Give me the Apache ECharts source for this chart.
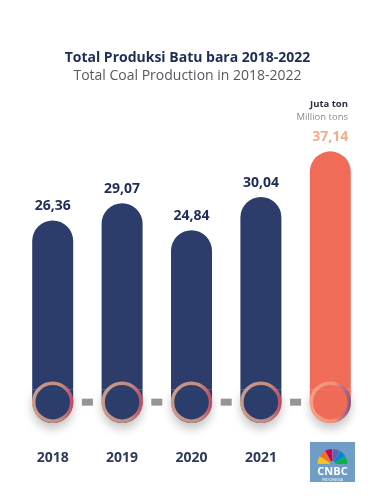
<!DOCTYPE html>
<html><head><meta charset="utf-8">
<script src="https://cdn.jsdelivr.net/npm/echarts@6/dist/echarts.min.js"></script>
<style>html,body{margin:0;padding:0;background:#fff}#c{width:375px;height:500px}</style>
</head><body><div id="c"></div>
<script>
// ---- data ----
const years = ['2018', '2019', '2020', '2021', '2022'];
const yearLabels = ['2018', '2019', '2020', '2021', ''];
const production = [26.36, 29.07, 24.84, 30.04, 37.14];
const titleMain = 'Total Produksi Batu bara 2018-2022';
const titleSub = 'Total Coal Production in 2018-2022';
const unitMain = 'Juta ton';
const unitSub = 'Million tons';

// ---- styling constants ----
const NAVY = '#2c3d6b';
const CORAL = '#f06c58';
const BASE = -5.2;   // decorative bar foot below zero
const RING = -1.95;  // level of the decorative circles
const FONT = '"Open Sans", sans-serif';

const barColor = i => (i === years.length - 1 ? CORAL : NAVY);
const fmt = v => v.toFixed(2).replace('.', ',');

const ringBorder = i => i === years.length - 1
  ? {type: 'linear', x: 0, y: 0, x2: 1, y2: 0, colorStops: [
      {offset: 0, color: '#f7ad92'}, {offset: 0.6, color: '#f29a84'}, {offset: 1, color: '#6a4d8e'}]}
  : {type: 'linear', x: 0, y: 0, x2: 1, y2: 0, colorStops: [
      {offset: 0, color: '#f1b393'}, {offset: 0.7, color: '#eb9f84'}, {offset: 1, color: '#e0485e'}]};

const chart = echarts.init(document.getElementById('c'), null, {renderer: 'canvas'});
chart.setOption({
  backgroundColor: '#ffffff',
  animation: false,
  title: [
    {text: titleMain, left: 'center', top: 46,
     textStyle: {fontFamily: FONT, fontSize: 14, fontWeight: 'bold', color: '#1e2d57'}},
    {text: titleSub, left: 'center', top: 64,
     textStyle: {fontFamily: FONT, fontSize: 14, fontWeight: 'normal', color: '#555a60'}},
    {text: unitMain, right: 22, top: 94,
     textStyle: {fontFamily: FONT, fontSize: 9.5, fontWeight: 'bold', color: '#2a2f3a'}},
    {text: unitSub, right: 22, top: 107,
     textStyle: {fontFamily: FONT, fontSize: 9.5, fontWeight: 'normal', color: '#8a8d92'}}
  ],
  grid: {left: 18, right: 10, top: 133, bottom: 77},
  xAxis: [
    {type: 'category', data: years,
     axisLine: {show: false}, axisTick: {show: false},
     axisLabel: {formatter: (v, i) => yearLabels[i], margin: 28,
       fontFamily: FONT, fontSize: 14, fontWeight: 'bold', color: '#2f3a5a'}},
    {type: 'value', min: -0.5, max: 4.5, show: false}
  ],
  yAxis: {type: 'value', min: BASE, max: 40, show: false, splitLine: {show: false}},
  series: [
    {type: 'bar', stack: 'b', barWidth: 41, z: 2,
     data: years.map((y, i) => ({value: BASE, itemStyle: {color: barColor(i)}})),
     itemStyle: {borderRadius: [0, 0, 21, 21], shadowColor: 'rgba(0,0,0,0.22)', shadowBlur: 10, shadowOffsetY: 6}},
    {type: 'bar', stack: 'b', barWidth: 41, z: 2,
     data: production.map((v, i) => ({value: v, itemStyle: {color: barColor(i)},
       label: {color: i === years.length - 1 ? '#f4ac8a' : '#1e2d57'}})),
     itemStyle: {borderRadius: [21, 21, 0, 0]},
     label: {show: true, position: 'top', distance: 7, formatter: p => fmt(p.value),
       fontFamily: FONT, fontSize: 14, fontWeight: 'bold'}},
    {type: 'scatter', xAxisIndex: 1, symbol: 'rect', symbolSize: [11, 7], z: 1,
     data: years.slice(1).map((y, i) => [i + 0.5, RING]),
     itemStyle: {color: '#7b7b7b'}},
    {type: 'scatter', symbolSize: 38, z: 5,
     data: years.map((y, i) => ({value: RING,
       itemStyle: {color: barColor(i), borderColor: ringBorder(i), borderWidth: 3.5}}))}
  ],
  graphic: [
    {type: 'group', left: 310, top: 442, children: [
      {type: 'rect', shape: {x: 0, y: 0, width: 45, height: 40}, style: {fill: '#6f9dc6'}},
      {type: 'sector', shape: {cx: 22.5, cy: 22, r0: 3, r: 15, startAngle: Math.PI * 1.0, endAngle: Math.PI * 1.17}, style: {fill: '#f6c21c'}},
      {type: 'sector', shape: {cx: 22.5, cy: 22, r0: 3, r: 15, startAngle: Math.PI * 1.18, endAngle: Math.PI * 1.33}, style: {fill: '#f37021'}},
      {type: 'sector', shape: {cx: 22.5, cy: 22, r0: 3, r: 15, startAngle: Math.PI * 1.34, endAngle: Math.PI * 1.49}, style: {fill: '#cc004c'}},
      {type: 'sector', shape: {cx: 22.5, cy: 22, r0: 3, r: 15, startAngle: Math.PI * 1.51, endAngle: Math.PI * 1.66}, style: {fill: '#6460aa'}},
      {type: 'sector', shape: {cx: 22.5, cy: 22, r0: 3, r: 15, startAngle: Math.PI * 1.67, endAngle: Math.PI * 1.82}, style: {fill: '#0089d0'}},
      {type: 'sector', shape: {cx: 22.5, cy: 22, r0: 3, r: 15, startAngle: Math.PI * 1.83, endAngle: Math.PI * 2.0}, style: {fill: '#0db14b'}},
      {type: 'text', x: 22.5, y: 24, style: {text: 'CNBC', fill: '#ffffff', font: 'bold 11px "Open Sans", sans-serif', align: 'center'}},
      {type: 'text', x: 22.5, y: 36, style: {text: 'INDONESIA', fill: '#ffffff', font: '4px "Open Sans", sans-serif', align: 'center'}}
    ]}
  ]
});
</script>
</body></html>
